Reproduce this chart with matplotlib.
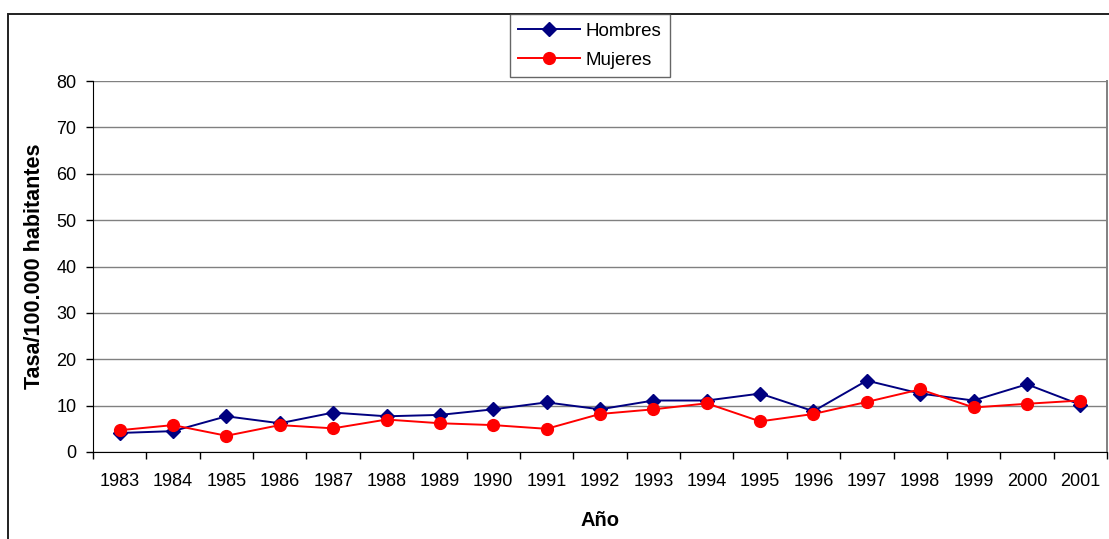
import numpy as np
import matplotlib.pyplot as plt
from matplotlib.patches import Rectangle

years = [str(y) for y in range(1983, 2002)]
hombres = [4.1, 4.5, 7.7, 6.2, 8.5, 7.7, 8.0, 9.2, 10.7, 9.2,
           11.1, 11.1, 12.6, 8.8, 15.4, 12.6, 11.1, 14.6, 10.2]
mujeres = [4.7, 5.8, 3.5, 5.8, 5.1, 7.0, 6.2, 5.8, 5.0, 8.2,
           9.2, 10.5, 6.6, 8.2, 10.8, 13.5, 9.6, 10.4, 11.1]

plt.rcParams["font.family"] = ["Liberation Sans", "DejaVu Sans"]

W, H = 1109, 539
fig = plt.figure(figsize=(W / 100, H / 100), dpi=100)
fig.patch.set_facecolor("white")

# outer chart border (partly off-canvas)
fig.patches.append(Rectangle((8 / W, -0.1), 1.2, 1 - 14 / H + 0.1, transform=fig.transFigure,
                             fill=False, edgecolor="#202020", linewidth=1.4))

ax = fig.add_axes([93 / W, 87 / H, 1014 / W, 371 / H])
x = np.arange(len(years))
ax.plot(x, hombres, color="#000080", marker="D", markersize=7, linewidth=1.4, label="Hombres")
ax.plot(x, mujeres, color="#ff0000", marker="o", markersize=8.5, linewidth=1.4, label="Mujeres")

ax.set_xlim(-0.5, len(years) - 0.5)
ax.set_ylim(0, 80)
ax.set_yticks(range(0, 81, 10))
ax.yaxis.grid(True, color="#808080", linewidth=1)
ax.set_axisbelow(True)
ax.set_xticks(x)
ax.set_xticklabels(years, fontsize=13)
ax.set_xticks(np.arange(-0.5, len(years), 1), minor=True)
ax.tick_params(axis="x", which="major", length=0, pad=15)
ax.tick_params(axis="x", which="minor", length=5, width=1, direction="out")
ax.tick_params(axis="y", length=5, width=1, labelsize=13, pad=7)

ax.spines["top"].set_visible(False)
ax.spines["right"].set_color("#808080")
ax.spines["right"].set_linewidth(1.4)
ax.spines["left"].set_color("black")
ax.spines["bottom"].set_color("black")

ax.set_ylabel("Tasa/100.000 habitantes", fontsize=15.5, fontweight="bold", labelpad=8)
ax.set_xlabel("Año", fontsize=14.5, fontweight="bold", labelpad=15)

leg = fig.legend(loc="upper left", bbox_to_anchor=(510 / W, 1 - 14 / H), fontsize=13.5,
                 frameon=True, fancybox=False, edgecolor="#404040", handlelength=3.3,
                 borderpad=0.45, labelspacing=0.65, handletextpad=0.3, borderaxespad=0)
leg.get_frame().set_linewidth(1)

fig.savefig("out.png", dpi=100)
